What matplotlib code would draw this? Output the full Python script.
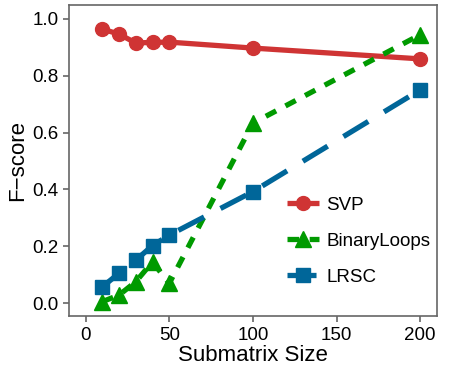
import matplotlib
matplotlib.use("Agg")
import matplotlib.pyplot as plt

plt.rcParams['font.family'] = ['Liberation Sans', 'DejaVu Sans']

sizes = [10, 20, 30, 40, 50, 100, 200]
svp = [0.964, 0.946, 0.915, 0.917, 0.918, 0.897, 0.859]
binary_loops = [0.005, 0.028, 0.075, 0.145, 0.069, 0.633, 0.944]
lrsc = [0.057, 0.105, 0.151, 0.202, 0.239, 0.392, 0.750]

red = '#CF3434'
green = '#009A00'
blue = '#006699'
gray = '#666666'

fig = plt.figure(figsize=(4.5, 3.75), dpi=100)
ax = fig.add_axes([0.153, 0.157, 0.818, 0.830])

ax.plot(sizes, svp, color=red, lw=3.8, marker='o', ms=10, label='SVP',
        solid_capstyle='butt')
ax.plot(sizes, binary_loops, color=green, lw=3.8, marker='^', ms=11,
        dashes=(2.2, 2.0), label='BinaryLoops')
ax.plot(sizes, lrsc, color=blue, lw=3.8, marker='s', ms=10,
        dashes=(5.5, 3.5), label='LRSC')

ax.set_xlim(-10, 210)
ax.set_ylim(-0.046, 1.049)
ax.set_xticks([0, 50, 100, 150, 200])
ax.set_yticks([0.0, 0.2, 0.4, 0.6, 0.8, 1.0])
ax.set_yticklabels(['0.0', '0.2', '0.4', '0.6', '0.8', '1.0'])
ax.tick_params(colors=gray, labelcolor='black', labelsize=13.5, length=4.5,
               width=1.2, pad=3)
for s in ax.spines.values():
    s.set_color(gray)
    s.set_linewidth(1.2)

ax.set_xlabel('Submatrix Size', fontsize=16, labelpad=1)
ax.set_ylabel('F\u2212score', fontsize=16, labelpad=3)

leg = ax.legend(loc='center left', bbox_to_anchor=(0.592, 0.241), frameon=False,
                fontsize=13.5, handlelength=1.7, labelspacing=1.0,
                handletextpad=0.4, borderpad=0, borderaxespad=0)

fig.savefig('out.png', dpi=100)
